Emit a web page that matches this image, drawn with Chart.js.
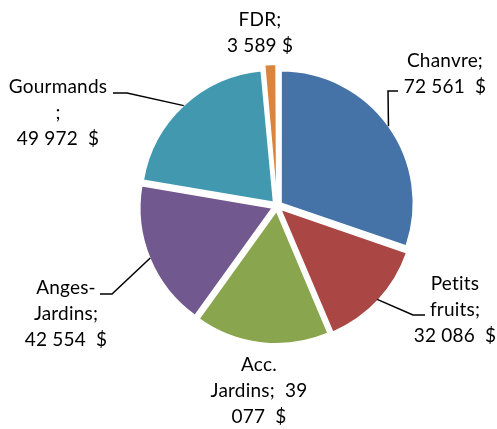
<!DOCTYPE html>
<html>
<head>
<meta charset="utf-8">
<script src="https://cdn.jsdelivr.net/npm/chart.js@4"></script>
<style>
  html, body { margin: 0; padding: 0; background: #fff; }
  #wrap { width: 497px; height: 429px; }
</style>
</head>
<body>
<div id="wrap"><canvas id="chartPie" width="497" height="429"></canvas></div>
<script>
// Data
const categories = ['Chanvre', 'Petits fruits', 'Acc. Jardins', 'Anges-Jardins', 'Gourmands', 'FDR'];
const amounts = [72561, 32086, 39077, 42554, 49972, 3589];
const sliceColors = ['#4573A7', '#AA4643', '#89A54E', '#71588F', '#4198AF', '#DB843D'];

// Wrapped label text, as in the original
const labelLines = [
  ['Chanvre;', '72 561  $'],
  ['Petits', 'fruits;', '32 086  $'],
  ['Acc.', 'Jardins;  39', '077  $'],
  ['Anges-', 'Jardins;', '42 554  $'],
  ['Gourmands', ';', '49 972  $'],
  ['FDR;', '3 589 $'],
];

// label placement, relative to the pie centre: [dx, dy of first line]
const labelPos = [[168, -145], [178, 78], [-18, 159], [-211, 82], [-219, -119], [-17, -186]];
// leader lines: [elbowX, elbowY, endX] relative to the pie centre, or null
const leaders = [[111, -115, 121], [136, 109, 148], null, [-165, 88, -177], [-150, -113, -164], null];

const LINE_H = 26;

const outsideLabels = {
  id: 'outsideLabels',
  afterDraw(chart) {
    const ctx = chart.ctx;
    const meta = chart.getDatasetMeta(0);
    ctx.save();
    ctx.font = '19px Lato, "Open Sans", sans-serif';
    ctx.letterSpacing = '0.2px'; // also keeps "ti" from turning into a ligature
    ctx.fillStyle = '#000';
    ctx.textAlign = 'center';
    ctx.textBaseline = 'middle';
    ctx.strokeStyle = '#000';
    ctx.lineWidth = 1.5;
    meta.data.forEach((arc, i) => {
      const { x, y, startAngle, endAngle, outerRadius } = arc.getProps(['x', 'y', 'startAngle', 'endAngle', 'outerRadius'], true);
      const mid = (startAngle + endAngle) / 2;
      const shift = (arc.options.offset || 0) / 4;
      const ld = leaders[i];
      if (ld) {
        const r = outerRadius + shift;
        ctx.beginPath();
        ctx.moveTo(x + Math.cos(mid) * r, y + Math.sin(mid) * r);
        ctx.lineTo(x + ld[0], y + ld[1]);
        ctx.lineTo(x + ld[2], y + ld[1]);
        ctx.stroke();
      }
      const [dx, dy] = labelPos[i];
      labelLines[i].forEach((t, k) => {
        ctx.fillText(t, x + dx, y + dy + k * LINE_H);
      });
    });
    ctx.restore();
  },
};

new Chart(document.getElementById('chartPie').getContext('2d'), {
  type: 'pie',
  data: {
    labels: categories,
    datasets: [{
      data: amounts,
      backgroundColor: sliceColors,
      borderColor: '#fff',
      borderWidth: 1.5,
      offset: 20,
      radius: 132,
    }],
  },
  options: {
    responsive: false,
    animation: false,
    layout: { padding: { left: 57, right: 0, top: 0, bottom: 17 } },
    plugins: {
      legend: { display: false },
      tooltip: { enabled: false },
    },
  },
  plugins: [outsideLabels],
});
</script>
</body>
</html>
